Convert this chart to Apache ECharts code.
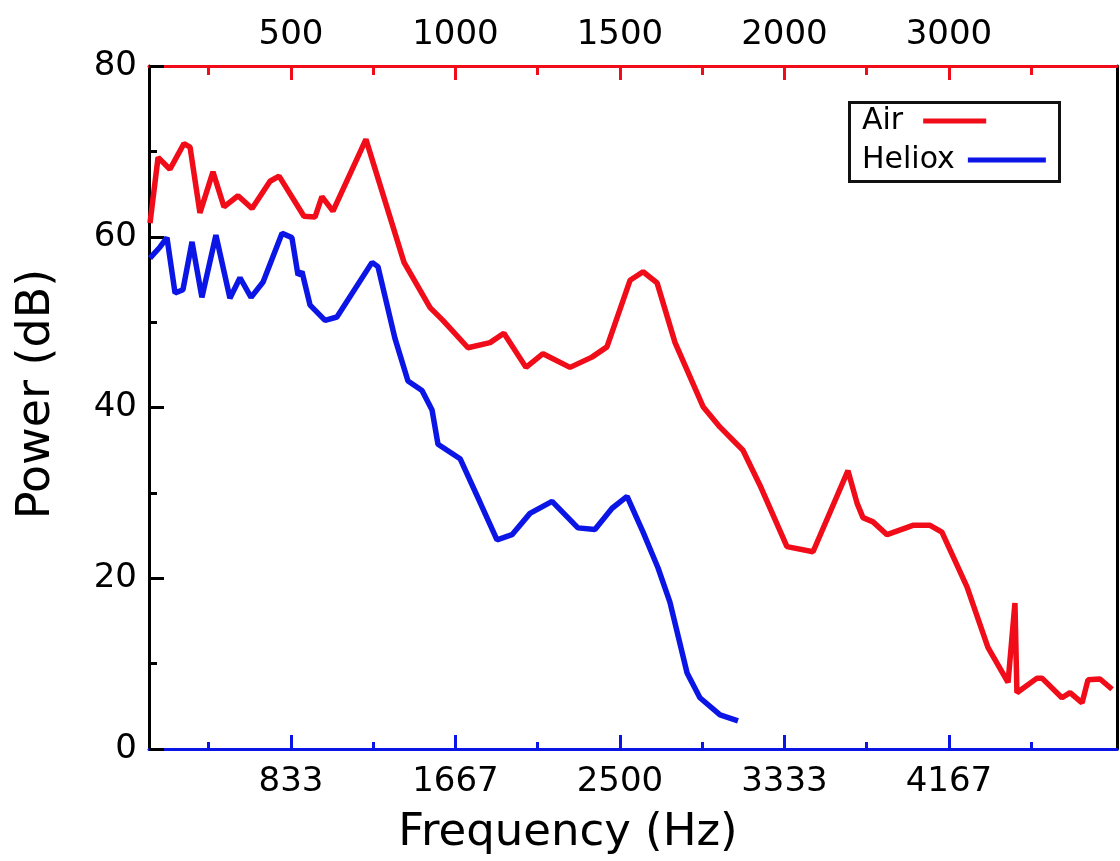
<!DOCTYPE html>
<html>
<head>
<meta charset="utf-8">
<script src="https://cdn.jsdelivr.net/npm/echarts@6/dist/echarts.min.js"></script>
<style>
html,body{margin:0;padding:0;background:#fff;}
#chart{width:1120px;height:861px;}
</style>
</head>
<body>
<div id="chart"></div>
<script>
// ---- data ----
const seriesNames = ['Air', 'Heliox'];
const airFreq  = [119,160,220,291,322,372,438,494,565,636,727,773,899,955,990,1046,1213,1406,1538,1603,1730,1842,1912,2024,2110,2247,2358,2434,2551,2617,2688,2779,2921,3007,3123,3209,3346,3478,3655,3701,3731,3782,3853,3984,4071,4131,4258,4364,4466,4501,4511,4613,4638,4739,4780,4841,4871,4932,4993];
const airPower = [61.6,69.3,67.9,70.9,70.5,62.8,67.6,63.5,64.8,63.3,66.5,67.1,62.4,62.3,64.7,63.0,71.4,57.0,51.7,50.2,47.0,47.6,48.7,44.7,46.3,44.7,45.9,47.1,54.9,55.9,54.6,47.6,40.1,37.7,35.0,30.9,23.7,23.1,32.6,28.8,27.1,26.6,25.1,26.2,26.2,25.4,19.0,11.9,7.8,17.1,6.6,8.3,8.3,6.0,6.6,5.4,8.1,8.2,7.0];
const helFreq  = [119,170,205,246,286,332,382,453,524,575,631,692,788,838,869,889,930,1006,1066,1244,1274,1360,1426,1497,1548,1578,1690,1791,1877,1953,2044,2156,2287,2373,2460,2536,2617,2693,2753,2840,2905,3007,3098];
const helPower = [57.5,58.8,59.9,53.4,53.8,59.4,52.9,60.2,52.8,55.2,52.9,54.7,60.4,59.9,55.5,55.9,52.0,50.2,50.6,57.0,56.5,48.1,43.1,42.0,39.7,35.7,34.0,28.9,24.5,25.1,27.6,29.0,25.9,25.7,28.2,29.6,25.4,21.2,17.2,8.9,6.0,4.0,3.3];
const xMajorTicks = [833.333, 1666.667, 2500, 3333.333, 4166.667];
const xMinorTicks = [416.667, 1250, 2083.333, 2916.667, 3750, 4583.333];
const bottomLabels = ['833', '1667', '2500', '3333', '4167'];
const topLabels = ['500', '1000', '1500', '2000', '3000'];
const yTicks = { min: 0, max: 80, interval: 20 };
const xRange = { min: 114, max: 5018 };
const xTitle = 'Frequency (Hz)';
const yTitle = 'Power (dB)';

const RED = '#f00c18', BLUE = '#0b16e6', FONT = 'DejaVu Sans';

function zip(a, b) { return a.map((v, i) => [v, b[i]]); }
function labelFor(list) {
  return function (v) {
    let best = 0, bd = Infinity;
    xMajorTicks.forEach((t, i) => { const d = Math.abs(t - v); if (d < bd) { bd = d; best = i; } });
    return list[best];
  };
}

const chart = echarts.init(document.getElementById('chart'), null, { renderer: 'canvas' });
const baseX = { type: 'value', min: xRange.min, max: xRange.max, splitLine: { show: false } };
const legendBase = {
  orient: 'horizontal', align: 'right', padding: 0,
  itemHeight: 5, icon: 'rect', backgroundColor: 'transparent', borderWidth: 0
};

chart.setOption({
  animation: false,
  backgroundColor: '#fff',
  grid: { left: 149, top: 66, right: 3, bottom: 112, containLabel: false, outerBoundsMode: 'none' },
  legend: [
    Object.assign({}, legendBase, {
      data: [seriesNames[0]], left: 862, top: 106, itemWidth: 63,
      textStyle: { fontFamily: FONT, fontSize: 30, color: '#000', padding: [0, 15, 0, 0] }
    }),
    Object.assign({}, legendBase, {
      data: [seriesNames[1]], left: 862, top: 145, itemWidth: 78,
      textStyle: { fontFamily: FONT, fontSize: 30, color: '#000', padding: [0, 8, 0, 0] }
    })
  ],
  xAxis: [
    Object.assign({}, baseX, {
      position: 'bottom',
      axisLine: { show: true, onZero: false, lineStyle: { color: BLUE, width: 3 } },
      axisTick: { show: true, inside: true, length: 14, lineStyle: { color: BLUE, width: 3 }, customValues: xMajorTicks },
      axisLabel: { show: true, customValues: xMajorTicks, formatter: labelFor(bottomLabels), fontFamily: FONT, fontSize: 34, color: '#000', margin: 16 }
    }),
    Object.assign({}, baseX, {
      position: 'top',
      axisLine: { show: true, onZero: false, lineStyle: { color: RED, width: 3 } },
      axisTick: { show: true, inside: true, length: 14, lineStyle: { color: RED, width: 3 }, customValues: xMajorTicks },
      axisLabel: { show: true, customValues: xMajorTicks, formatter: labelFor(topLabels), fontFamily: FONT, fontSize: 34, color: '#000', margin: 14 }
    }),
    Object.assign({}, baseX, {
      position: 'bottom',
      axisLine: { show: false, onZero: false },
      axisTick: { show: true, inside: true, length: 7, lineStyle: { color: BLUE, width: 3 }, customValues: xMinorTicks },
      axisLabel: { show: false }
    }),
    Object.assign({}, baseX, {
      position: 'top',
      axisLine: { show: false, onZero: false },
      axisTick: { show: true, inside: true, length: 9, lineStyle: { color: RED, width: 3 }, customValues: xMinorTicks },
      axisLabel: { show: false }
    })
  ],
  yAxis: [
    {
      type: 'value', position: 'left',
      min: yTicks.min, max: yTicks.max, interval: yTicks.interval,
      axisLine: { show: true, onZero: false, lineStyle: { color: '#000', width: 3 } },
      axisTick: { show: true, inside: true, length: 15, lineStyle: { color: '#000', width: 3 } },
      minorTick: { show: true, splitNumber: 2, length: 8, lineStyle: { color: '#000', width: 3 } },
      splitLine: { show: false }, minorSplitLine: { show: false },
      axisLabel: { fontFamily: FONT, fontSize: 34, color: '#000', margin: 12 }
    },
    {
      type: 'value', position: 'right',
      min: yTicks.min, max: yTicks.max,
      axisLine: { show: true, onZero: false, lineStyle: { color: '#000', width: 3 } },
      axisTick: { show: false }, axisLabel: { show: false }, splitLine: { show: false }
    }
  ],
  graphic: [
    { type: 'rect', z: 1, shape: { x: 849.5, y: 102.5, width: 210, height: 79 }, style: { fill: '#fff', stroke: '#111', lineWidth: 3 } },
    { type: 'text', x: 568, y: 833, style: { text: xTitle, font: '45px "DejaVu Sans"', fill: '#000', textAlign: 'center', textVerticalAlign: 'middle' } },
    { type: 'text', x: 37, y: 394, rotation: Math.PI / 2, style: { text: yTitle, font: '46px "DejaVu Sans"', fill: '#000', textAlign: 'center', textVerticalAlign: 'middle' } }
  ],
  series: [
    { name: seriesNames[0], type: 'line', xAxisIndex: 0, yAxisIndex: 0, data: zip(airFreq, airPower), symbol: 'none', color: RED, lineStyle: { color: RED, width: 5.5 }, z: 3 },
    { name: seriesNames[1], type: 'line', xAxisIndex: 0, yAxisIndex: 0, data: zip(helFreq, helPower), symbol: 'none', color: BLUE, lineStyle: { color: BLUE, width: 5.5 }, z: 3 }
  ]
});
</script>
</body>
</html>
